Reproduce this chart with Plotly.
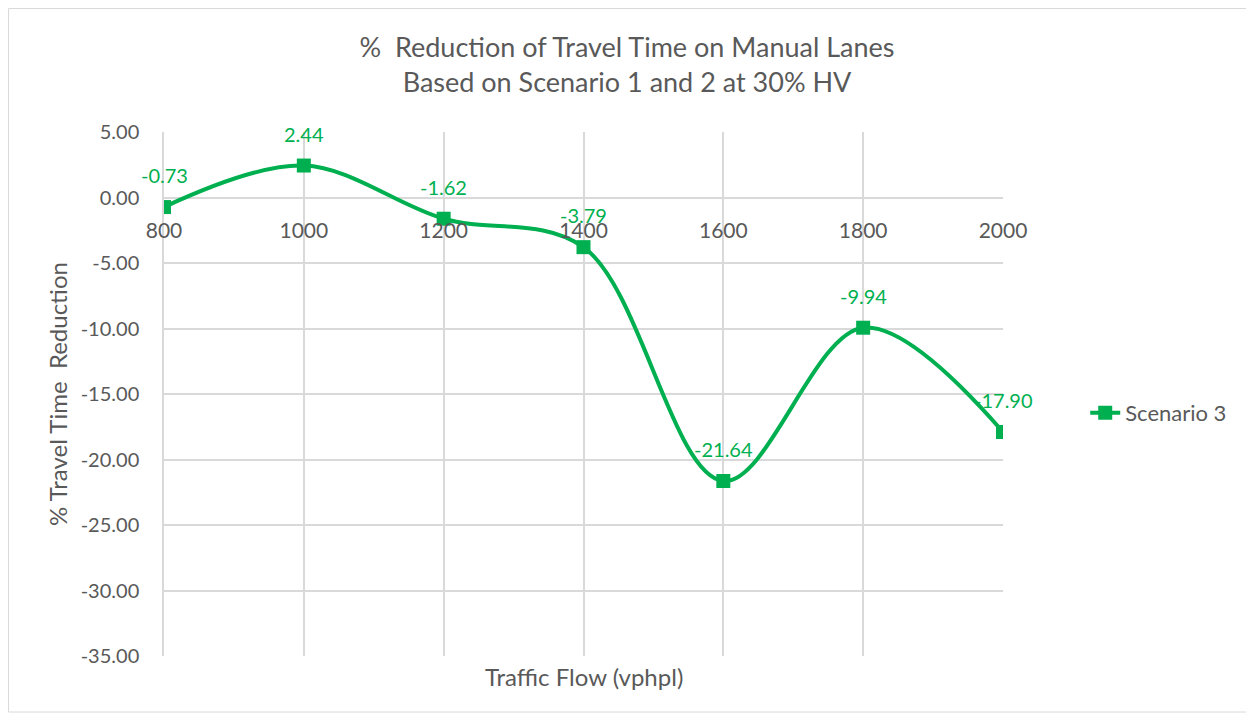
import plotly.graph_objects as go

categories = [800, 1000, 1200, 1400, 1600, 1800, 2000]
scenario3 = [-0.73, 2.44, -1.62, -3.79, -21.64, -9.94, -17.90]
series_name = "Scenario 3"
title_lines = ["%  Reduction of Travel Time on Manual Lanes", "Based on Scenario 1 and 2 at 30% HV"]
x_title = "Traffic Flow (vphpl)"
y_title = "% Travel Time  Reduction"
y_ticks = [5, 0, -5, -10, -15, -20, -25, -30, -35]

green = "#00B050"
grid = "#D9D9D9"
txt = "#595959"
font = "Lato, 'Open Sans', sans-serif"

fig = go.Figure()
fig.add_trace(go.Scatter(
    x=categories, y=scenario3, mode="lines+markers", name=series_name,
    line=dict(color=green, width=4, shape="spline", smoothing=1),
    marker=dict(symbol="square", size=14, color=green),
))

for xv, yv in zip(categories, scenario3):
    fig.add_annotation(x=xv, y=yv, text=f"{yv:.2f}", showarrow=False,
                       yshift=32, font=dict(color=green, size=20, family=font))

fig.add_annotation(x=0.5, y=-0.040, xref="paper", yref="paper", text=x_title,
                   showarrow=False, yanchor="middle",
                   font=dict(color=txt, size=24, family=font))

fig.add_shape(type="rect", xref="paper", yref="paper",
              x0=-0.1853, x1=1.2932, y0=-0.1069, y1=1.2357,
              line=dict(color="#D9D9D9", width=1))

fig.update_layout(
    width=1238, height=705,
    margin=dict(l=156, r=243, t=124, b=57),
    paper_bgcolor="white", plot_bgcolor="white",
    title=dict(text="<br>".join(title_lines), x=0.5, xanchor="center",
               xref="container", y=0.930, yanchor="middle",
               font=dict(color=txt, size=27, family=font)),
    showlegend=True,
    legend=dict(x=1.098, y=0.464, xanchor="left", yanchor="middle",
                font=dict(color=txt, size=22, family=font),
                bgcolor="rgba(0,0,0,0)"),
    xaxis=dict(range=[800, 2000], tickvals=categories,
               ticktext=[str(c) for c in categories],
               anchor="free", position=35/40, showline=False,
               showgrid=True, gridcolor=grid, gridwidth=1.5, zeroline=False,
               ticks="", ticklabelstandoff=18,
               tickfont=dict(color=txt, size=21, family=font)),
    yaxis=dict(range=[-35, 5], tickvals=y_ticks,
               ticktext=[f"{v:.2f}" for v in y_ticks],
               showgrid=True, gridcolor=grid, gridwidth=1.5,
               zeroline=True, zerolinecolor=grid, zerolinewidth=1.5,
               showline=True, linecolor=grid, linewidth=1.5,
               ticks="", ticklabelstandoff=19,
               title=dict(text=y_title, standoff=6,
                          font=dict(color=txt, size=24, family=font)),
               tickfont=dict(color=txt, size=20, family=font)),
)

fig.write_html("out.html")
